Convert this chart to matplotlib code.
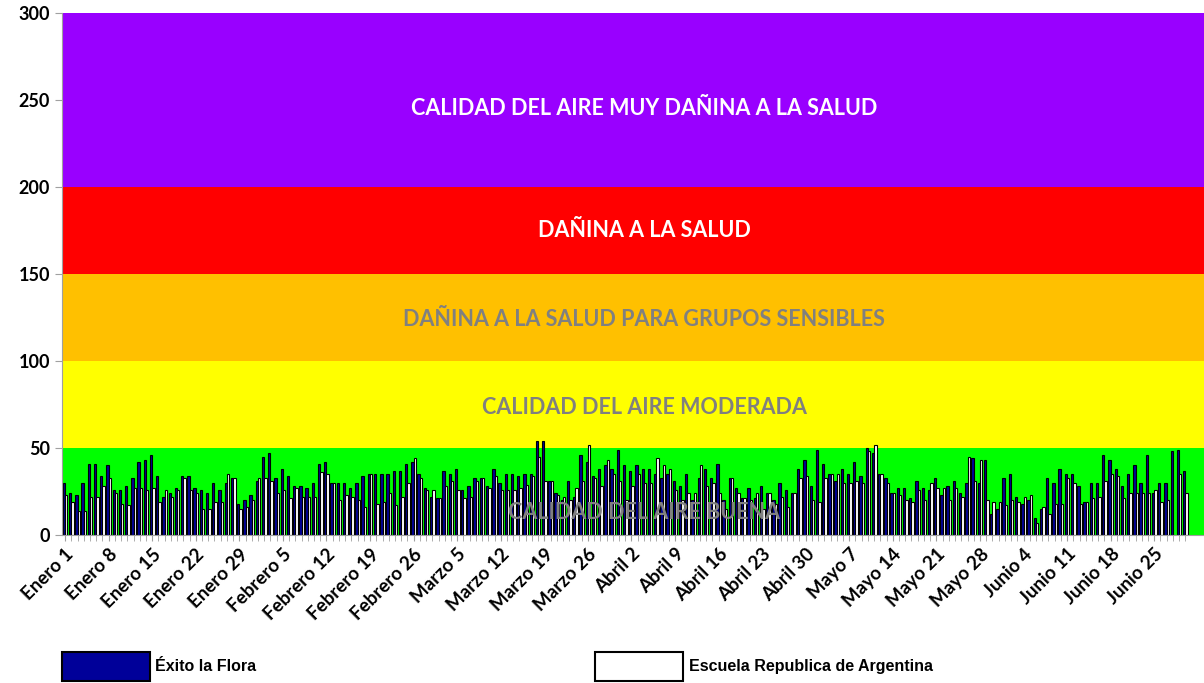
import matplotlib
matplotlib.use("Agg")
import matplotlib.pyplot as plt
import numpy as np
from matplotlib.patches import Patch

# --- Datos (Ene 1 - Jun 30) ---
meses = [("Enero", 31), ("Febrero", 28), ("Marzo", 31), ("Abril", 30), ("Mayo", 31), ("Junio", 30)]
dias = [f"{m} {d}" for m, n in meses for d in range(1, n + 1)]

exito_la_flora = [
    30, 24, 23, 30, 41, 41, 34, 40, 26, 26, 28, 33, 42, 43, 46, 34, 22, 24, 27, 34,
    34, 27, 26, 24, 30, 26, 30, 33, 18, 20, 23, 31, 45, 47, 33, 38, 34, 28, 28, 27,
    30, 41, 42, 30, 30, 30, 27, 30, 34, 35, 35, 35, 35, 37, 37, 41, 42, 35, 27, 22,
    21, 37, 35, 38, 26, 28, 33, 33, 28, 38, 30, 35, 35, 34, 35, 35, 54, 54, 31, 24,
    20, 31, 22, 46, 42, 34, 38, 40, 38, 49, 40, 37, 40, 38, 38, 35, 33, 35, 31, 28,
    35, 20, 33, 38, 33, 41, 20, 33, 27, 21, 27, 21, 28, 24, 20, 30, 26, 24, 38, 43,
    28, 49, 41, 35, 31, 38, 35, 42, 34, 50, 47, 35, 33, 24, 27, 27, 21, 31, 27, 26,
    33, 23, 28, 31, 24, 30, 44, 30, 43, 12, 15, 33, 35, 22, 18, 20, 10, 15, 33, 30,
    38, 35, 35, 28, 19, 30, 30, 46, 43, 38, 28, 35, 40, 30, 46, 24, 30, 30, 48, 49,
    37,
]

escuela_argentina = [
    23, 19, 14, 14, 22, 22, 28, 33, 24, 18, 17, 27, 27, 26, 27, 19, 26, 22, 26, 33,
    26, 24, 15, 15, 19, 19, 35, 33, 15, 16, 20, 33, 33, 31, 24, 26, 21, 27, 22, 22,
    22, 36, 35, 30, 20, 23, 22, 20, 16, 35, 18, 19, 24, 17, 22, 30, 44, 33, 26, 26,
    21, 28, 31, 26, 21, 22, 31, 33, 27, 34, 26, 26, 26, 27, 29, 34, 45, 31, 31, 23,
    22, 20, 27, 31, 52, 33, 28, 43, 35, 31, 20, 28, 35, 30, 30, 44, 40, 38, 26, 20,
    24, 24, 40, 28, 30, 24, 15, 33, 24, 21, 20, 24, 15, 24, 18, 22, 16, 24, 33, 34,
    20, 19, 33, 35, 35, 30, 30, 31, 30, 48, 52, 35, 30, 24, 23, 20, 19, 26, 20, 30,
    27, 27, 20, 27, 22, 45, 31, 43, 20, 19, 19, 17, 20, 19, 22, 23, 7, 16, 12, 18,
    18, 33, 30, 18, 19, 21, 22, 31, 35, 34, 21, 24, 24, 24, 24, 26, 19, 20, 0, 35,
    24,
]

# Bandas de calidad del aire
limites = [0, 50, 100, 150, 200, 300]
colores_banda = ["#00FF00", "#FFFF00", "#FFC000", "#FF0000", "#9900FF"]
textos_banda = ["CALIDAD DEL AIRE BUENA", "CALIDAD DEL AIRE MODERADA",
                "DAÑINA A LA SALUD PARA GRUPOS SENSIBLES", "DAÑINA A LA SALUD",
                "CALIDAD DEL AIRE MUY DAÑINA A LA SALUD"]
colores_texto = ["#808080", "#808080", "#808080", "white", "white"]
y_texto = [13, 73, 124, 175, 245]

# --- Plot ---
fig = plt.figure(figsize=(12.04, 6.83), dpi=100)
ax = fig.add_axes([62 / 1204, 1 - 535 / 683, 1 - 62 / 1204, (535 - 13) / 683])

for i in range(len(colores_banda)):
    ax.axhspan(limites[i], limites[i + 1], color=colores_banda[i], zorder=0, lw=0)

x = np.arange(len(dias))
w = 0.38
ax.bar(x - w / 2, exito_la_flora, w, color="#000099", edgecolor="black", lw=0.8, zorder=2)
ax.bar(x + w / 2, escuela_argentina, w, color="white", edgecolor="black", lw=0.8, zorder=2)

for t, c, y in zip(textos_banda, colores_texto, y_texto):
    ax.text(0.51, y, t, transform=ax.get_yaxis_transform(), ha="center", va="center",
            color=c, fontsize=15.5, fontweight="bold", family="Lato", zorder=3)

ax.set_xlim(-0.5, 183)
ax.set_ylim(0, 300)
ax.set_yticks(np.arange(0, 301, 50))
for lab in ax.get_yticklabels():
    lab.set_fontweight("bold")
    lab.set_family("Lato")
    lab.set_fontsize(13)

ticks = x[::7]
ax.set_xticks(ticks)
ax.set_xticklabels([dias[i] for i in ticks], rotation=45, ha="right", rotation_mode="anchor",
                   fontsize=13.5, fontweight="bold", family="Lato")
ax.set_xticks(x, minor=True)
ax.tick_params(axis="x", which="both", color="#a0a0a0", length=4)
ax.tick_params(axis="y", color="#a0a0a0", length=5)

for s in ["top", "right"]:
    ax.spines[s].set_visible(False)
ax.spines["left"].set_color("#a0a0a0")
ax.spines["bottom"].set_color("#a0a0a0")

handles = [Patch(facecolor="#000099", edgecolor="black", lw=1.5),
           Patch(facecolor="white", edgecolor="black", lw=1.5)]
fig.legend(handles, ["Éxito la Flora", "Escuela Republica de Argentina"],
           loc="upper left", bbox_to_anchor=(62 / 1204, 1 - 652 / 683), ncol=2,
           frameon=False, handlelength=5.5, handleheight=2.4, handletextpad=0.35,
           columnspacing=21.2, borderpad=0, borderaxespad=0,
           prop={"family": "Liberation Sans", "weight": "bold", "size": 11.5})

fig.savefig("out.png", dpi=100)
